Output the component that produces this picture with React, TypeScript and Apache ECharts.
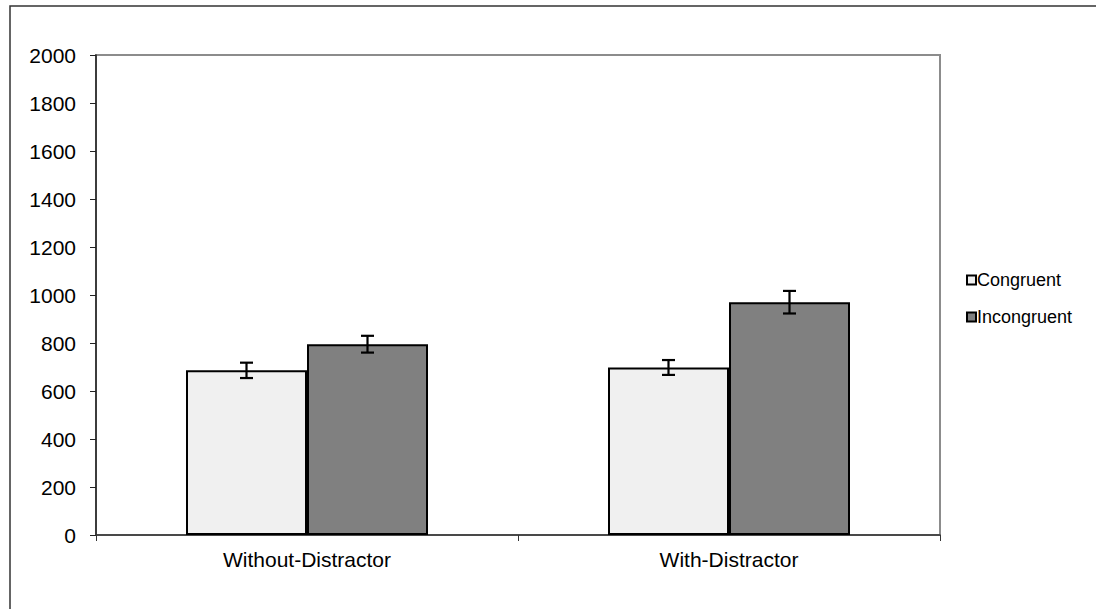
import React, { useEffect, useRef } from "react";
import * as echarts from "echarts";

const categories = ["Without-Distractor", "With-Distractor"];
const seriesNames = ["Congruent", "Incongruent"];
const congruent = [686, 698];
const incongruent = [795, 970];
const congruentErr = [32, 31];
const incongruentErr = [35, 47];
const yTicks = { min: 0, max: 2000, interval: 200 };

const BAR_W = 121;

export default function App() {
  const ref = useRef<HTMLDivElement>(null);
  useEffect(() => {
    if (!ref.current) return;
    const chart = echarts.init(ref.current, null, { renderer: "svg" });
    const errSeries = (name: string, vals: number[], errs: number[], offset: number) => ({
      type: "custom",
      name: name + "-err",
      z: 10,
      silent: true,
      data: vals.map((v, i) => [i, v - errs[i], v + errs[i]]),
      renderItem: (params: any, api: any) => {
        const lo = api.coord([api.value(0), api.value(1)]);
        const hi = api.coord([api.value(0), api.value(2)]);
        const x = lo[0] + offset;
        const cap = 6.5;
        const st = { stroke: "#000", lineWidth: 2.2, fill: "none" };
        return {
          type: "group",
          children: [
            { type: "line", shape: { x1: x, y1: lo[1], x2: x, y2: hi[1] }, style: st },
            { type: "line", shape: { x1: x - cap, y1: lo[1], x2: x + cap, y2: lo[1] }, style: st },
            { type: "line", shape: { x1: x - cap, y1: hi[1], x2: x + cap, y2: hi[1] }, style: st },
          ],
        };
      },
    });
    chart.setOption({
      animation: false,
      backgroundColor: "#fff",
      textStyle: { fontFamily: "Liberation Sans, Arial, sans-serif" },
      graphic: [
        {
          type: "rect",
          shape: { x: 10, y: 6, width: 1200, height: 800 },
          style: { fill: "none", stroke: "#333", lineWidth: 1.5 },
          silent: true,
          z: -1,
        },
      ],
      grid: {
        left: 96,
        top: 55,
        right: 156,
        bottom: 74,
        show: true,
        borderColor: "#8c8c8c",
        borderWidth: 2,
        backgroundColor: "transparent",
      },
      legend: {
        orient: "vertical",
        left: 961,
        top: 266,
        itemWidth: 9,
        itemHeight: 9,
        itemGap: 19,
        icon: "rect",
        data: seriesNames,
        textStyle: { fontSize: 18, lineHeight: 18, color: "#000", padding: [0, 0, 0, -4] },
        itemStyle: { borderColor: "#000", borderWidth: 2 },
      },
      xAxis: {
        type: "category",
        data: categories,
        axisLine: { lineStyle: { color: "#333", width: 1.5 } },
        axisTick: { show: true, length: 6, lineStyle: { color: "#333" } },
        axisLabel: { fontSize: 21, color: "#000", margin: 14 },
        splitLine: { show: false },
      },
      yAxis: {
        type: "value",
        min: yTicks.min,
        max: yTicks.max,
        interval: yTicks.interval,
        axisLine: { show: true, lineStyle: { color: "#222", width: 1.5 } },
        axisTick: { show: true, length: 6, lineStyle: { color: "#222" } },
        axisLabel: {
          fontSize: 21,
          color: "#000",
          margin: 20,
          formatter: (v: number) => String(v),
        },
        splitLine: { show: false },
      },
      series: [
        {
          type: "bar",
          name: seriesNames[0],
          data: congruent,
          barWidth: BAR_W,
          barGap: "0%",
          itemStyle: { color: "#f0f0f0", borderColor: "#000", borderWidth: 2 },
        },
        {
          type: "bar",
          name: seriesNames[1],
          data: incongruent,
          barWidth: BAR_W,
          barGap: "0%",
          itemStyle: { color: "#808080", borderColor: "#000", borderWidth: 2 },
        },
        errSeries(seriesNames[0], congruent, congruentErr, -BAR_W / 2),
        errSeries(seriesNames[1], incongruent, incongruentErr, BAR_W / 2),
      ],
    });
    return () => chart.dispose();
  }, []);
  return (
    <div
      ref={ref}
      style={{ position: "fixed", left: 0, top: 0, width: 1096, height: 609 }}
    />
  );
}
